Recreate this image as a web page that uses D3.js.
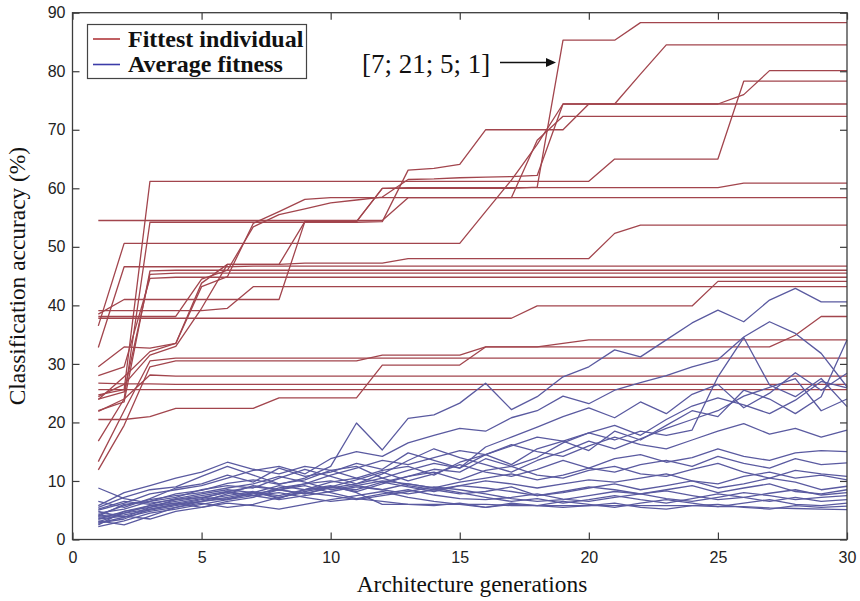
<!DOCTYPE html>
<html>
<head>
<meta charset="utf-8">
<script src="https://cdn.jsdelivr.net/npm/d3@7"></script>
<style>
  html, body { margin: 0; padding: 0; background: #fff; }
  svg { display: block; }
</style>
</head>
<body>
<svg id="chart" width="860" height="601"></svg>
<script>
// Generations 1..30 on the x axis
const generations = d3.range(1, 31);

const xTicks = [0, 5, 10, 15, 20, 25, 30];
const yTicks = [0, 10, 20, 30, 40, 50, 60, 70, 80, 90];

// Best individual per generation, one array per evolutionary run (%)
const fittest = [
  [29.5,32.9,32.7,33.5,43.8,47,47,47,54.3,54.3,54.3,60,60,60,60,60,60,60.2,85.3,85.3,85.3,88.3,88.3,88.3,88.3,88.3,88.3,88.3,88.3,88.3],
  [21.9,24,54.2,54.2,54.2,54.2,54.2,54.2,54.2,54.2,54.2,54.3,63.1,63.4,64.1,70,70,70,70,74.4,74.4,79.5,84.5,84.5,84.5,84.5,84.5,84.5,84.5,84.5],
  [24.7,25.6,61.2,61.2,61.2,61.2,61.2,61.2,61.2,61.2,61.2,61.2,61.2,61.2,61.2,61.2,61.2,61.2,61.2,61.2,65,65,65,65,65,78.3,78.3,78.3,78.3,78.3],
  [36.5,50.6,50.6,50.6,50.6,50.6,50.6,50.6,50.6,50.6,50.6,50.6,50.6,50.6,50.6,56,61.4,67.5,74.4,74.4,74.4,74.4,74.4,74.4,74.4,74.4,74.4,74.4,74.4,74.4],
  [38.1,38.1,38.1,38.1,44.5,46,53.4,55.5,56.5,57.5,58,58.5,61.5,61.6,61.8,61.9,62,62.2,74.4,74.4,74.4,74.4,74.4,74.4,74.4,76,80.1,80.1,80.1,80.1],
  [23.9,27.8,32.1,33.5,43.2,44.9,54,56,58.1,58.4,58.4,58.4,58.4,58.4,58.4,58.4,58.4,68.2,72.3,72.3,72.3,72.3,72.3,72.3,72.3,72.3,72.3,72.3,72.3,72.3],
  [38.5,41,41,41,41,41,41,41,54.3,54.3,54.3,60,60.1,60.1,60.1,60.1,60.1,60.1,60.1,60.1,60.1,60.1,60.1,60.1,60.1,60.9,60.9,60.9,60.9,60.9],
  [54.5,54.5,54.5,54.5,54.5,54.5,54.5,54.5,54.5,54.5,54.5,54.5,58.4,58.4,58.4,58.4,58.4,58.4,58.4,58.4,58.4,58.4,58.4,58.4,58.4,58.4,58.4,58.4,58.4,58.4],
  [24.4,26.5,31.5,33,39.5,47,47,47,47.2,47.2,47.2,47.2,48,48,48,48,48,48,48,48,52.3,53.7,53.7,53.7,53.7,53.7,53.7,53.7,53.7,53.7],
  [32.8,46.6,46.6,46.6,46.6,46.6,46.7,46.7,46.7,46.7,46.7,46.7,46.7,46.7,46.7,46.7,46.7,46.7,46.7,46.7,46.7,46.7,46.7,46.7,46.7,46.7,46.7,46.7,46.7,46.7],
  [22,23.5,45.9,46,46,46,46,46,46,46,46,46,46,46,46,46,46,46,46,46,46,46,46,46,46,46,46,46,46,46],
  [24,25.2,45.3,45.5,45.5,45.5,45.5,45.5,45.5,45.5,45.5,45.5,45.5,45.5,45.5,45.5,45.5,45.5,45.5,45.5,45.5,45.5,45.5,45.5,45.5,45.5,45.5,45.5,45.5,45.5],
  [28,29.5,44.6,44.8,44.8,44.8,44.8,44.8,44.8,44.8,44.8,44.8,44.8,44.8,44.8,44.8,44.8,44.8,44.8,44.8,44.8,44.8,44.8,44.8,44.8,44.8,44.8,44.8,44.8,44.8],
  [37.8,37.8,37.8,37.8,37.8,37.8,37.8,37.8,37.8,37.8,37.8,37.8,37.8,37.8,37.8,37.8,37.8,39.9,39.9,39.9,39.9,39.9,39.9,39.9,44.1,44.1,44.1,44.1,44.1,44.1],
  [39.1,39.1,39.1,39.1,39.1,39.5,43.2,43.2,43.2,43.2,43.2,43.2,43.2,43.2,43.2,43.2,43.2,43.2,43.2,43.2,43.2,43.2,43.2,43.2,43.2,43.2,43.2,43.2,43.2,43.2],
  [11.9,19.5,29.5,30.5,30.5,30.5,30.5,30.5,30.5,30.5,30.5,31.5,31.5,31.5,31.5,32.9,32.9,32.9,32.9,32.9,32.9,32.9,32.9,32.9,32.9,32.9,32.9,34.9,38.1,38.1],
  [20.5,20.5,21,22.4,22.4,22.4,22.4,24.2,24.2,24.2,24.2,29.8,29.8,29.8,29.8,32.9,32.9,32.9,33.5,34.1,34.1,34.1,34.1,34.1,34.1,34.1,34.1,34.1,34.1,34.1],
  [13.3,22,30.5,31,31,31,31,31,31,31,31,31,31,31,31,31,31,31,31,31,31,31,31,31,31,31,31,31,31,31],
  [16.8,24,28.1,27.9,27.9,27.9,27.9,27.9,27.9,27.9,27.9,27.9,27.9,27.9,27.9,27.9,27.9,27.9,27.9,27.9,27.9,27.9,27.9,27.9,27.9,27.9,27.9,27.9,27.9,27.9],
  [26.7,26.6,26.6,26.5,26.5,26.5,26.5,26.5,26.5,26.5,26.5,26.5,26.5,26.5,26.5,26.5,26.5,26.5,26.5,26.5,26.5,26.5,26.5,26.5,26.5,26.5,26.5,26.5,26.5,26.5],
  [25.6,25.6,25.6,25.6,25.6,25.6,25.6,25.6,25.6,25.6,25.6,25.6,25.6,25.6,25.6,25.6,25.6,25.6,25.6,25.6,25.6,25.6,25.6,25.6,25.6,25.6,25.6,25.6,25.6,25.6]
];

// Average population fitness per generation, one array per run (%)
const average = [
  [4.5,5.2,6.5,7.8,8.4,9.6,10.2,9.4,10.5,12.5,19.9,15.3,20.7,21.3,23.3,26.7,22.2,24.4,27.8,29.5,32.4,31.2,34.1,37,39.2,37.2,40.9,42.9,40.6,40.6],
  [3.5,4.8,5.5,6.2,7,8.2,7.5,8.8,9.5,11,12.2,13.5,12.8,14,15.2,14.5,16,17.5,16.8,18.2,17,18.5,17.8,18.7,27.8,34.5,26.4,24.4,27.5,22.7],
  [5,6.2,7.8,8.5,9.2,10.5,11.8,12.5,11.2,13.8,15,14.2,16.5,17.8,19,18.5,20.8,22,24.5,23.2,25.5,26.8,28,29.5,30.7,34.6,37.2,35.2,31.8,26.1],
  [3,4.5,5.8,6.5,7.2,6.8,8,9.2,8.5,9.8,10.5,11.8,12.5,11,13.2,14.5,12.8,15.5,16.8,15.2,18.5,17,19.5,22,21,25.5,24,21.5,24.4,34.1],
  [6.5,5.5,7,8.8,9.5,11,9.8,12.2,10.8,11.5,13,12,14.8,13.5,12.2,15.8,17.5,19.2,21,22.5,20.8,23.5,21.5,24.8,26.5,22.5,25,28.5,25.5,28.4],
  [2.8,3.5,5.2,6,6.8,7.5,8.2,7,8.5,9,8.2,9.5,10.8,12,11.5,13.8,12.5,14,16.5,18.2,19.5,17.8,20.5,22.8,24.2,23,21.5,23.8,27,25.9],
  [4,6,6.5,7.2,8.5,9.2,8.8,10.5,12,10.8,9.5,11.2,13.5,15.5,14,12.8,11.5,13.5,15,16.8,15.5,17.2,19,20.5,22,24.5,26,27.5,22,24],
  [5.5,7.2,8.5,9,10.8,12.5,11,9.5,10.2,11.8,12.5,10.5,11.8,13,12.2,14.5,16.2,15,14.2,16,17.5,16.2,15.5,17,18.5,19.8,18,19,17.5,18.7],
  [3.8,4.2,5,5.8,6.5,7.8,9.2,8.5,7.8,9,10.2,11.5,10,11.2,12.8,11.5,10.8,12,13.5,12.2,13.8,14.5,13.2,14,15.5,14.2,13.5,14.8,15.2,15],
  [4.2,5.8,6.8,7.5,8,8.8,9.5,10.8,9.8,8.5,9.2,10,9.5,8.8,9.8,10.5,11.2,10.2,11,12.2,11.5,12.8,13.5,12.5,14.2,13,12.2,13.8,12.8,13.1],
  [5.2,6.5,6,7,7.8,8.5,8,7.2,8.2,9,8.5,9.8,9,8.2,9.2,10,9.5,8.8,9.5,10.2,9.8,10.5,11.2,10,9.5,10.8,11.5,10.5,11,10.2],
  [8.8,7,6.2,6.8,7.5,8.2,9,8.5,7.8,8.8,9.5,10.5,9.2,8.5,7.8,8.2,9,7.5,8,8.8,9.5,8.5,9.2,10,8.8,9.5,10.5,9.8,8.5,9.1],
  [2.2,3.2,4.5,5.2,6,6.8,7.5,8,7.2,6.5,7,7.8,8.5,7.6,7,6.8,7.2,7.8,6.9,6.5,7.2,7.8,8.3,7.5,6.8,7.2,7.9,8.5,7.6,8],
  [3.2,2.5,4,5.5,6.2,5.5,6,7.2,8,7.5,6.8,7.5,8.2,9,8.5,7.8,7,6.5,6.8,7.5,8.2,7.8,7,6.5,7.2,8,7.5,6.8,7.2,7.5],
  [4.8,3.8,5.5,6.8,7.2,8,7.5,6.8,7.5,8.2,9,8.5,9.5,8.8,8,7.2,6.5,7,6.2,6.8,7.5,6.8,6.2,7,7.8,7.2,6.5,7.2,6.5,6.8],
  [3.5,4,3.5,4.8,5.5,6.2,5.8,5.2,6,6.8,7.5,8.2,7.2,6.5,6,5.5,6.2,5.8,6.5,6,5.5,6.2,6.8,6.2,5.6,6.2,6.8,6,5.8,6.2],
  [2.8,3.8,4.8,5.5,6.5,7,7.8,8.5,9.2,8,7,6.5,6,5.8,6.2,5.5,6,5.8,5.5,5.8,6.2,5.5,5.2,5.8,6,5.5,5.2,5.8,5.5,5.7],
  [4,4.5,5.2,6,6.5,7.2,8,7.5,8.5,9.2,8,6,6,6,6,6,5.8,5.8,5.8,5.8,5.8,5.8,5.8,5.8,5.6,5.6,5.4,5.3,5.2,5.1],
  [2.5,4.8,5.8,6.2,5.5,6.5,7.2,8.5,9.5,10,9.2,8.5,7.8,8.5,9.2,8.8,8.2,7.5,8.2,9,8.5,7.8,8.5,9.2,8,8.8,9.5,8.2,7.8,8.5],
  [5.8,8,9.2,10.5,11.5,13.2,12,11.2,12.5,11.8,10.5,9.8,10.8,11.5,10.2,11.8,12.5,11,10.5,11.8,12.5,11.2,10.8,12,13,11.5,10.5,11.8,11.2,10.8]
];

const legendLabels = ["Fittest individual", "Average fitness"];
const annotationText = "[7; 21; 5; 1]";
const xTitle = "Architecture generations";
const yTitle = "Classification accuracy (%)";

const redLine = "#a2454d";
const blueLine = "#5a5aa0";
const frameColor = "#3c3c3c";

const svg = d3.select("#chart");
const plotLeft = 72.5, plotRight = 847, plotTop = 12.7, plotBottom = 539.5;

const x = d3.scaleLinear().domain([0, 30]).range([plotLeft, plotRight]);
const y = d3.scaleLinear().domain([0, 90]).range([plotBottom, plotTop]);

const line = d3.line()
  .x((d, i) => x(generations[i]))
  .y(d => y(d));

// Runs
const plot = svg.append("g");
plot.selectAll("path.fit")
  .data(fittest)
  .join("path")
  .attr("class", "fit")
  .attr("d", line)
  .attr("fill", "none")
  .attr("stroke", redLine)
  .attr("stroke-width", 1.3)
  .attr("stroke-linejoin", "round");

plot.selectAll("path.avg")
  .data(average)
  .join("path")
  .attr("class", "avg")
  .attr("d", line)
  .attr("fill", "none")
  .attr("stroke", blueLine)
  .attr("stroke-width", 1.3)
  .attr("stroke-linejoin", "round");

// Axes with inward ticks on all four sides
const tickFont = "'Liberation Sans', Arial, Helvetica, sans-serif";
const gx = svg.append("g")
  .attr("transform", `translate(0,${plotBottom})`)
  .call(d3.axisBottom(x).tickValues(xTicks).tickSize(-7).tickPadding(12).tickFormat(d3.format("d")));
const gy = svg.append("g")
  .attr("transform", `translate(${plotLeft},0)`)
  .call(d3.axisLeft(y).tickValues(yTicks).tickSize(-7).tickPadding(7).tickFormat(d3.format("d")));
const gt = svg.append("g")
  .attr("transform", `translate(0,${plotTop})`)
  .call(d3.axisTop(x).tickValues(xTicks).tickSize(-7).tickFormat(""));
const gr = svg.append("g")
  .attr("transform", `translate(${plotRight},0)`)
  .call(d3.axisRight(y).tickValues(yTicks).tickSize(-7).tickFormat(""));

[gx, gy, gt, gr].forEach(g => {
  g.select(".domain").remove();
  g.selectAll(".tick line").attr("stroke", frameColor).attr("stroke-width", 1.2);
  g.selectAll(".tick text")
    .attr("fill", "#222")
    .style("font-family", tickFont)
    .style("font-size", "16px");
});

svg.append("rect")
  .attr("x", plotLeft).attr("y", plotTop)
  .attr("width", plotRight - plotLeft).attr("height", plotBottom - plotTop)
  .attr("fill", "none")
  .attr("stroke", frameColor)
  .attr("stroke-width", 1.3);

// Axis titles
const serif = "'Liberation Serif', 'Times New Roman', Times, serif";
svg.append("text")
  .attr("x", 472).attr("y", 592)
  .attr("text-anchor", "middle")
  .style("font-family", serif).style("font-size", "23.4px")
  .attr("fill", "#111")
  .text(xTitle);

svg.append("text")
  .attr("transform", `translate(25,${(plotTop + plotBottom) / 2}) rotate(-90)`)
  .attr("text-anchor", "middle")
  .style("font-family", serif).style("font-size", "23.4px")
  .attr("fill", "#111")
  .text(yTitle);

// Legend
const legend = svg.append("g");
legend.append("rect")
  .attr("x", 87.5).attr("y", 24.5).attr("width", 219).attr("height", 54)
  .attr("fill", "#fff").attr("stroke", "#444").attr("stroke-width", 1.2);
const legendColors = ["#b0383c", "#3c3ca8"];
legendLabels.forEach((lab, i) => {
  const cy = 39 + i * 25.5;
  legend.append("line")
    .attr("x1", 93).attr("x2", 120).attr("y1", cy).attr("y2", cy)
    .attr("stroke", legendColors[i]).attr("stroke-width", 1.6);
  legend.append("text")
    .attr("x", 128).attr("y", cy + 7.5)
    .style("font-family", serif).style("font-size", "24px").style("font-weight", "bold")
    .attr("fill", "#111")
    .text(lab);
});

// Annotation for the best architecture
svg.append("text")
  .attr("x", 362).attr("y", 72.5)
  .style("font-family", serif).style("font-size", "27px")
  .attr("fill", "#111")
  .text(annotationText);
svg.append("line")
  .attr("x1", 500).attr("x2", 548).attr("y1", 62.5).attr("y2", 62.5)
  .attr("stroke", "#111").attr("stroke-width", 1.3);
svg.append("path")
  .attr("d", "M556,62.5 L546,58 L546,67 Z")
  .attr("fill", "#111");
</script>
</body>
</html>
